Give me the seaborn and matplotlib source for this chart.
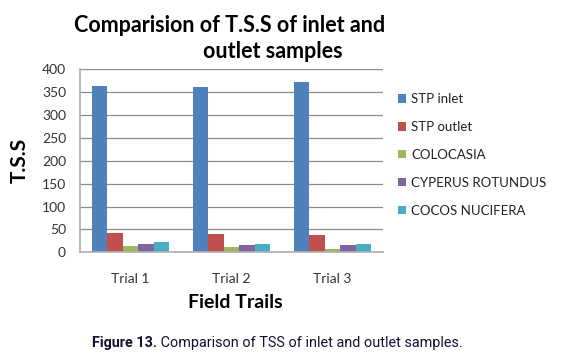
import matplotlib
matplotlib.use("Agg")
import matplotlib.pyplot as plt
import seaborn as sns
import pandas as pd

trials = ["Trial 1", "Trial 2", "Trial 3"]
stp_inlet = [364, 361, 372]
stp_outlet = [43, 39, 38]
colocasia = [14, 12, 8]
cyperus = [18, 16, 16]
cocos = [22, 18, 18]
series_names = ["STP inlet", "STP outlet", "COLOCASIA", "CYPERUS ROTUNDUS", "COCOS NUCIFERA"]
colors = ["#4F81BD", "#C0504D", "#9BBB59", "#8064A2", "#4BACC6"]
yticks = [0, 50, 100, 150, 200, 250, 300, 350, 400]

rows = []
for name, vals in zip(series_names, [stp_inlet, stp_outlet, colocasia, cyperus, cocos]):
    for t, v in zip(trials, vals):
        rows.append({"Trial": t, "Series": name, "TSS": v})
df = pd.DataFrame(rows)

sns.set_theme(style="white")
plt.rcParams["font.family"] = ["Lato", "DejaVu Sans"]

W, H = 565, 359
fig = plt.figure(figsize=(W/100, H/100), dpi=100)
ax = fig.add_axes([80/W, 1-252.3/H, 303/W, (252.3-69.3)/H])
sns.barplot(data=df, x="Trial", y="TSS", hue="Series", hue_order=series_names,
            palette=colors, ax=ax, width=0.77, saturation=1, errorbar=None,
            edgecolor="none", linewidth=0)
ax.set_ylim(0, 400)
ax.set_xlim(-0.5, 2.5)
ax.set_yticks(yticks)
ax.set_yticklabels([str(v) for v in yticks], fontsize=10, color="#333333")
ax.tick_params(axis="x", labelsize=10, colors="#333333", pad=15, length=0)
ax.tick_params(axis="y", length=0, pad=10)
ax.yaxis.grid(True, color="#8c8c8c", linewidth=0.9)
ax.set_axisbelow(True)
for s in ["top", "right"]:
    ax.spines[s].set_visible(False)
ax.spines["left"].set_color("#b0b0b0")
ax.spines["bottom"].set_color("#b0b0b0")
ax.set_xlabel("")
ax.set_ylabel("")

leg = ax.legend(loc="upper left", bbox_to_anchor=((393-80)/303, (252.3-88)/183), frameon=False,
                fontsize=9.5, handlelength=0.6, handleheight=0.6, handletextpad=0.4,
                labelspacing=1.2, borderaxespad=0, labelcolor="#222222")

fig.text(230/W, 1-25/H, "Comparision of T.S.S of inlet and", ha="center", va="center",
         fontsize=15.5, fontweight="bold", color="black")
fig.text(273/W, 1-52/H, "outlet samples", ha="center", va="center",
         fontsize=15.5, fontweight="bold", color="black")
fig.text(20/W, 1-160/H, "T.S.S", rotation=90, ha="center", va="center",
         fontsize=15, fontweight="bold", color="black")
fig.text(235/W, 1-302/H, "Field Trails", ha="center", va="center",
         fontsize=14, fontweight="bold", color="black")

# caption: two parts, fitted to span x=92..460
cap_font = ["Roboto", "DejaVu Sans"]
fs = 11
t1 = fig.text(92/W, 1-343/H, "Figure 13.", ha="left", va="center", fontsize=fs,
              fontweight="bold", family=cap_font, color="#111133")
t2 = fig.text(150/W, 1-343/H, " Comparison of TSS of inlet and outlet samples.", ha="left", va="center",
              fontsize=fs, family=cap_font, color="#111133")
r = fig.canvas.get_renderer()
w1 = t1.get_window_extent(r).width
w2 = t2.get_window_extent(r).width
scale = 368 / (w1 + w2)
fs2 = fs * scale
t1.set_fontsize(fs2)
t2.set_fontsize(fs2)
w1 = t1.get_window_extent(r).width
t2.set_x((92 + w1) / W)

fig.savefig("out.png", dpi=100)
